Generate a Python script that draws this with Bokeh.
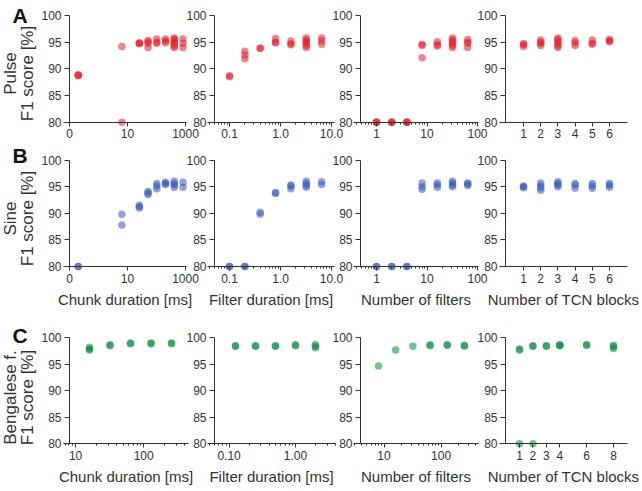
import math
from bokeh.plotting import figure
from bokeh.layouts import column, row
from bokeh.models import Range1d, FixedTicker, PrintfTickFormatter, Label
from bokeh.embed import file_html
from bokeh.resources import INLINE

# ---------------- data ----------------
chunk_ms = [0.2, 6.4, 25.6, 51.2, 102.4, 204.8, 409.6, 819.2]
filter_ms = [0.1, 0.2, 0.4, 0.8, 1.6, 3.2, 6.4]
n_filters = [1, 2, 4, 8, 16, 32, 64]
tcn_blocks = [1, 2, 3, 4, 5, 6]

pulse_chunk = [[88.7, 88.8, 88.9], [80.0, 94.2], [94.7, 94.8, 94.9], [94.0, 94.8, 95.1, 95.3],
               [94.8, 95.0, 95.6], [94.9, 95.2, 95.6], [94.0, 94.3, 94.7, 95.0, 95.3, 95.6, 95.8],
               [94.0, 94.8, 95.6]]
pulse_filter = [[88.5, 88.7], [91.9, 92.6, 93.3], [93.8, 93.9], [94.9, 95.0, 95.7],
                [94.5, 94.7, 95.2], [94.0, 94.4, 94.8, 95.1, 95.4, 95.8], [94.6, 95.2, 95.8]]
pulse_nfilt = [[80.0, 80.0, 80.0], [80.0, 80.0, 80.0], [80.0, 80.0, 80.0], [92.1, 94.4, 94.6],
               [94.3, 94.5, 95.1], [94.0, 94.4, 94.8, 95.1, 95.4, 95.8], [94.0, 94.8, 95.0, 95.5]]
pulse_tcn = [[94.2, 94.6, 94.7], [94.4, 94.8, 95.0, 95.4], [94.0, 94.4, 94.8, 95.1, 95.5, 95.8],
             [94.4, 94.9, 95.3], [94.6, 94.8, 95.4], [95.1, 95.3, 95.5]]

sine_chunk = [[80.0, 80.0], [87.8, 89.8], [91.0, 91.2, 91.5], [93.5, 93.8, 94.1],
              [94.6, 95.1, 95.6], [95.4, 95.6, 95.8], [94.9, 95.3, 95.6, 96.0], [94.9, 95.8]]
sine_filter = [[80.0, 80.0], [80.0, 80.0], [89.8, 90.2], [93.7, 93.9], [94.6, 95.1, 95.3],
               [94.9, 95.2, 95.6, 96.0], [95.4, 95.9]]
sine_nfilt = [[80.0, 80.0], [80.0, 80.0], [80.0, 80.0], [94.5, 95.0, 95.7], [94.9, 95.3, 95.7],
              [95.0, 95.3, 95.7, 96.0], [95.2, 95.5, 95.7]]
sine_tcn = [[94.8, 95.0, 95.1], [94.3, 94.8, 95.2, 95.7], [95.0, 95.3, 95.6, 95.9],
            [94.7, 95.3, 95.6], [94.7, 95.1, 95.6], [94.9, 95.3, 95.6]]

bf_chunk_ms = [16, 32, 64, 128, 256]
bf_filter_ms = [0.125, 0.25, 0.5, 1.0, 2.0]
bf_n_filters = [8, 16, 32, 64, 128, 256]
bf_tcn_blocks = [1, 2, 3, 4, 6, 8]

bf_chunk = [[97.7, 97.9, 98.2], [98.5, 98.7], [98.9, 99.0], [98.9, 99.0], [98.9, 99.0]]
bf_filter = [[98.4, 98.5], [98.4, 98.5], [98.4, 98.5], [98.5, 98.7], [98.1, 98.4, 98.7]]
bf_nfilt = [[94.7], [97.7], [98.4], [98.5, 98.7], [98.6, 98.7], [98.4, 98.6]]
bf_tcn = [[80.0, 97.7, 97.9], [80.0, 98.4, 98.5], [98.4, 98.5], [98.5, 98.6, 98.7],
          [98.6, 98.7], [98.0, 98.3, 98.6]]

y_ticks = [80, 85, 90, 95, 100]
chunk_ticks, chunk_tick_labels = [0.1, 10, 1000], ["0", "10", "1000"]
filter_ticks, filter_tick_labels = [0.1, 1, 10], ["0.1", "1.0", "10.0"]
nfilt_ticks, nfilt_tick_labels = [1, 10, 100], ["1", "10", "100"]
tcn_ticks = [1, 2, 3, 4, 5, 6]
bf_chunk_ticks, bf_chunk_tick_labels = [10, 100], ["10", "100"]
bf_filter_ticks, bf_filter_tick_labels = [0.1, 1], ["0.10", "1.00"]
bf_nfilt_ticks, bf_nfilt_tick_labels = [10, 100], ["10", "100"]
bf_tcn_ticks = [1, 2, 3, 4, 6, 8]

row_titles = ["Pulse", "Sine", "Bengalese f."]
panel_letters = ["A", "B", "C"]
x_titles = ["Chunk duration [ms]", "Filter duration [ms]", "Number of filters", "Number of TCN blocks"]

RED, BLUE, GREEN = "#e3202c", "#3a5bb8", "#0b8a3e"
FONT = "Liberation Sans"
TXT = "#333333"

# ---------------- layout geometry (page pixels) ----------------
COLX = [(0, 200), (182, 346), (328, 491), (473, 642)]        # figure x spans (overlapping)
ROWY = [(0, 145), (145, 322), (322, 491)]                    # figure y spans
ROW_Y100_Y80 = [(15.0, 121.7), (159.5, 266.0), (337.3, 443.3)]
LETTER_Y = [15, 155, 335]
TITLE_Y = [73, 218, 397]


def to_val(log, v0, p0, ppu, p):
    if log:
        return 10 ** (math.log10(v0) + (p - p0) / ppu)
    return v0 + (p - p0) / ppu


def log_minor(lo, hi):
    out = []
    for e in range(-3, 4):
        for m in range(2, 10):
            v = m * 10 ** e
            if lo <= v <= hi:
                out.append(v)
    return out


def panel(ri, ci, xs, groups, color, xspec, ticks, labels, fmt, minor_on, xlabel):
    log, v0, p0, ppu, spine, axl, axr = xspec
    xl, xr = COLX[ci]
    yt, yb = ROWY[ri]
    y100, y80 = ROW_Y100_Y80[ri]
    yppu = (y80 - y100) / 20.0
    y_top = 100 + (y100 - yt) / yppu
    y_bot = 80 - (yb - y80) / yppu
    x_lo, x_hi = to_val(log, v0, p0, ppu, xl), to_val(log, v0, p0, ppu, xr)
    b_lo, b_hi = to_val(log, v0, p0, ppu, axl), to_val(log, v0, p0, ppu, axr)

    p = figure(x_axis_type="log" if log else "linear", x_range=Range1d(x_lo, x_hi),
               y_range=Range1d(y_bot, y_top), width=xr - xl, height=yb - yt,
               min_border=0, toolbar_location=None, output_backend="svg",
               background_fill_alpha=0, border_fill_alpha=0, outline_line_color=None)
    p.xgrid.visible = False
    p.ygrid.visible = False
    gx, gy = [], []
    for x, g in zip(xs, groups):
        for v in g:
            gx.append(x)
            gy.append(v)
    p.scatter(gx, gy, size=7.5, fill_color=color, fill_alpha=0.55, line_color=None)

    xa = p.xaxis[0]
    xa.fixed_location = 80
    xa.bounds = (b_lo, b_hi)
    minor = log_minor(b_lo, b_hi) if minor_on else []
    xa.ticker = FixedTicker(ticks=ticks, minor_ticks=minor)
    xa.formatter = PrintfTickFormatter(format=fmt)
    if labels is not None:
        xa.major_label_overrides = {float(t): l for t, l in zip(ticks, labels)}
    xa.major_tick_in = 0
    xa.major_tick_out = 4
    xa.minor_tick_in = 0
    xa.minor_tick_out = 2
    xa.axis_line_color = TXT
    xa.major_tick_line_color = TXT
    xa.minor_tick_line_color = TXT
    xa.major_label_text_font = FONT
    xa.major_label_text_font_size = "12px"
    xa.major_label_text_color = TXT
    xa.major_label_standoff = 3
    if xlabel:
        xa.axis_label = xlabel
        xa.axis_label_text_font = FONT
        xa.axis_label_text_font_size = "15px"
        xa.axis_label_text_font_style = "normal"
        xa.axis_label_text_color = TXT
        xa.axis_label_standoff = 5

    ya = p.yaxis[0]
    ya.fixed_location = to_val(log, v0, p0, ppu, spine)
    ya.ticker = FixedTicker(ticks=y_ticks, minor_ticks=[])
    ya.bounds = (80, 100)
    ya.major_tick_in = 0
    ya.major_tick_out = 5
    ya.axis_line_color = TXT
    ya.major_tick_line_color = TXT
    ya.major_label_text_font = FONT
    ya.major_label_text_font_size = "12px"
    ya.major_label_text_color = TXT
    ya.major_label_standoff = 3

    if ci == 0:
        h = yb - yt
        p.add_layout(Label(x=19.5, y=h - (LETTER_Y[ri] - yt), x_units="screen", y_units="screen",
                           text=panel_letters[ri], text_font=FONT, text_font_size="21px",
                           text_font_style="bold", text_color="#111111",
                           text_align="center", text_baseline="middle"))
        for tx, txt in ((9.5, row_titles[ri]), (27, "F1 score [%]")):
            p.add_layout(Label(x=tx, y=h - (TITLE_Y[ri] - yt), x_units="screen", y_units="screen",
                               angle=math.pi / 2, text=txt, text_font=FONT, text_font_size="17px",
                               text_color=TXT, text_align="center", text_baseline="middle"))
    if ci > 0:
        p.margin = (0, 0, 0, COLX[ci][0] - COLX[ci - 1][1])
    return p


# x specs: (log, anchor value, anchor page px, px per unit/decade, spine px, axis left px, axis right px)
XS_AB = [
    (True, 0.1, 69, 29.0, 69, 63, 186),
    (True, 0.1, 229, 51.0, 214, 207, 334),
    (True, 1.0, 376, 50.5, 360, 353, 478),
    (False, 1.0, 523, 17.2, 505, 499, 627),
]
XS_C = [
    (True, 16, 89, 68.1, 69, 63, 188),
    (True, 0.125, 235, 66.4, 214, 207, 335),
    (True, 8, 378, 57.1, 360, 353, 478),
    (False, 1.0, 519, 13.43, 505, 499, 627),
]

row_specs = [
    (RED, XS_AB, [
        (chunk_ms, pulse_chunk, chunk_ticks, chunk_tick_labels, "%.0f", False),
        (filter_ms, pulse_filter, filter_ticks, filter_tick_labels, "%.1f", True),
        (n_filters, pulse_nfilt, nfilt_ticks, nfilt_tick_labels, "%.0f", True),
        (tcn_blocks, pulse_tcn, tcn_ticks, None, "%d", False),
    ]),
    (BLUE, XS_AB, [
        (chunk_ms, sine_chunk, chunk_ticks, chunk_tick_labels, "%.0f", False),
        (filter_ms, sine_filter, filter_ticks, filter_tick_labels, "%.1f", True),
        (n_filters, sine_nfilt, nfilt_ticks, nfilt_tick_labels, "%.0f", True),
        (tcn_blocks, sine_tcn, tcn_ticks, None, "%d", False),
    ]),
    (GREEN, XS_C, [
        (bf_chunk_ms, bf_chunk, bf_chunk_ticks, bf_chunk_tick_labels, "%.0f", True),
        (bf_filter_ms, bf_filter, bf_filter_ticks, bf_filter_tick_labels, "%.2f", True),
        (bf_n_filters, bf_nfilt, bf_nfilt_ticks, bf_nfilt_tick_labels, "%.0f", True),
        (bf_tcn_blocks, bf_tcn, bf_tcn_ticks, None, "%d", False),
    ]),
]

rows = []
for ri, (color, xspecs, specs) in enumerate(row_specs):
    figs = []
    for ci, (xs, groups, ticks, labels, fmt, minor_on) in enumerate(specs):
        figs.append(panel(ri, ci, xs, groups, color, xspecs[ci], ticks, labels, fmt, minor_on,
                          x_titles[ci] if ri > 0 else None))
    rows.append(row(*figs))

layout = column(*rows)
open("out.html", "w").write(file_html(layout, INLINE))
